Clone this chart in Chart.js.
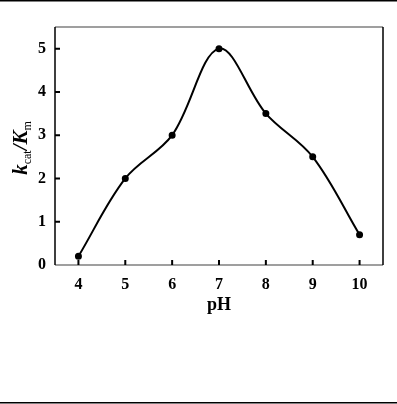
<!DOCTYPE html>
<html>
<head>
<meta charset="utf-8">
<script src="https://cdn.jsdelivr.net/npm/chart.js@4"></script>
<style>
  html, body { margin: 0; padding: 0; background: #fff; }
  #wrap { width: 397px; height: 404px; position: relative; }
</style>
</head>
<body>
<div id="wrap"><canvas id="phChart"></canvas></div>
<script>
const phValues = [4, 5, 6, 7, 8, 9, 10];
const kcatKm = [0.2, 2.0, 3.0, 5.0, 3.5, 2.5, 0.7];
const xTicks = [4, 5, 6, 7, 8, 9, 10];
const yTicks = [0, 1, 2, 3, 4, 5];

const serif = '"Liberation Serif", "Times New Roman", serif';

/* frame, inward ticks, rules and the y title */
const framePlugin = {
  id: 'frame',
  afterDraw(chart) {
    const c = chart.ctx;
    const a = chart.chartArea;
    const xs = chart.scales.x, ys = chart.scales.y;
    c.save();
    // page rules
    c.fillStyle = '#000';
    c.fillRect(0, 0, chart.width, 1.5);
    c.fillRect(0, 402, chart.width, 1.5);
    // box
    c.lineWidth = 1.5;
    c.strokeStyle = '#808080';
    c.beginPath();
    c.moveTo(a.left, a.top); c.lineTo(a.right, a.top);
    c.moveTo(a.left, a.bottom); c.lineTo(a.right, a.bottom);
    c.stroke();
    c.strokeStyle = '#000';
    c.beginPath();
    c.moveTo(a.left, a.top); c.lineTo(a.left, a.bottom);
    c.moveTo(a.right, a.top); c.lineTo(a.right, a.bottom);
    c.stroke();
    // inward ticks
    c.lineWidth = 2;
    c.beginPath();
    xTicks.forEach(v => {
      const px = xs.getPixelForValue(v);
      c.moveTo(px, a.bottom); c.lineTo(px, a.bottom - 5);
    });
    yTicks.slice(1).forEach(v => {
      const py = ys.getPixelForValue(v);
      c.moveTo(a.left, py); c.lineTo(a.left + 5, py);
    });
    c.stroke();
    // y title k_cat / K_m
    c.translate(20, 148);
    c.rotate(-Math.PI / 2);
    c.fillStyle = '#000';
    c.textBaseline = 'alphabetic';
    const big = 'italic bold 21px ' + serif;
    const small = '12px ' + serif;
    const parts = [
      { t: 'k', f: big, dy: 0 },
      { t: 'cat', f: small, dy: 4 },
      { t: '/', f: 'italic bold 21px ' + serif, dy: 0 },
      { t: 'K', f: big, dy: 0 },
      { t: 'm', f: small, dy: 4 }
    ];
    let w = 0;
    parts.forEach(p => { c.font = p.f; w += c.measureText(p.t).width; });
    let x = -w / 2;
    parts.forEach(p => {
      c.font = p.f;
      c.fillText(p.t, x, 7 + p.dy);
      x += c.measureText(p.t).width;
    });
    c.restore();
  }
};

const ctx = document.getElementById('phChart').getContext('2d');
new Chart(ctx, {
  type: 'line',
  data: {
    datasets: [{
      data: phValues.map((v, i) => ({ x: v, y: kcatKm[i] })),
      borderColor: '#000',
      borderWidth: 2,
      tension: 0.35,
      pointRadius: 2.5,
      pointBackgroundColor: '#000',
      pointBorderColor: '#000',
      fill: false
    }]
  },
  options: {
    responsive: true,
    maintainAspectRatio: false,
    animation: false,
    layout: { padding: { left: 0, right: 14, top: 27, bottom: 88 } },
    plugins: { legend: { display: false }, tooltip: { enabled: false } },
    scales: {
      x: {
        type: 'linear',
        min: 3.5,
        max: 10.5,
        afterFit(s) { s.height = 51; },
        afterBuildTicks(s) { s.ticks = xTicks.map(v => ({ value: v })); },
        grid: { display: false, drawTicks: false },
        border: { display: false },
        ticks: { color: '#000', padding: 10, font: { family: serif, size: 16, weight: 'bold' } },
        title: {
          display: true,
          text: 'pH',
          color: '#000',
          padding: { top: 0, bottom: 0 },
          font: { family: serif, size: 18, weight: 'bold' }
        }
      },
      y: {
        min: 0,
        max: 5.5,
        afterFit(s) { s.width = 55; },
        afterBuildTicks(s) { s.ticks = yTicks.map(v => ({ value: v })); },
        grid: { display: false, drawTicks: false },
        border: { display: false },
        ticks: { color: '#000', padding: 9, font: { family: serif, size: 16, weight: 'bold' } }
      }
    }
  },
  plugins: [framePlugin]
});
</script>
</body>
</html>
